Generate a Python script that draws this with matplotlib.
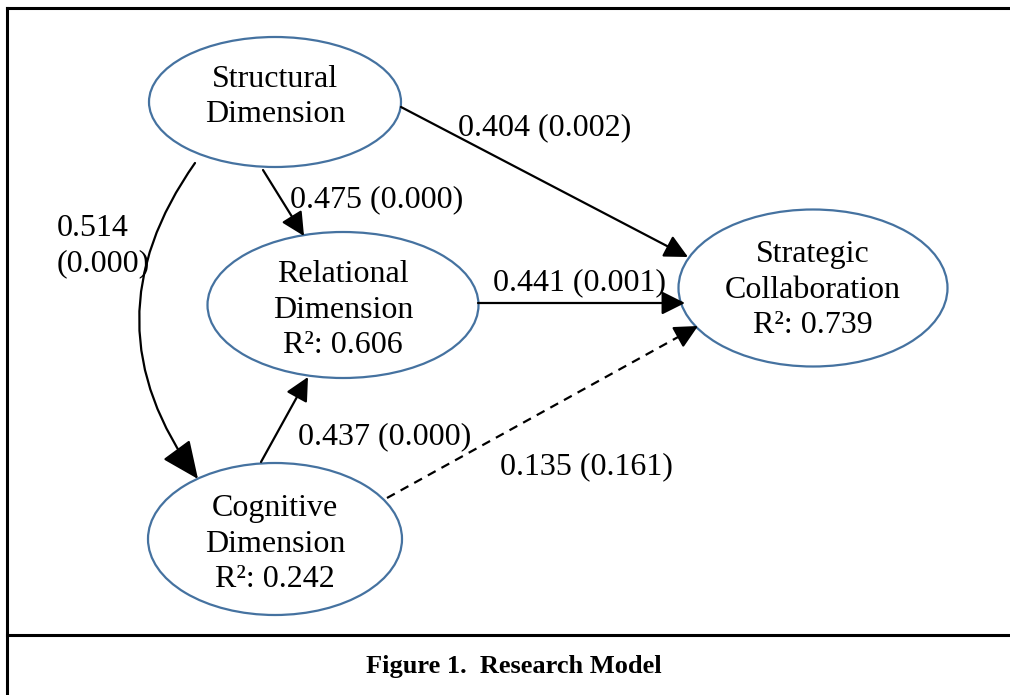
import matplotlib.pyplot as plt
import numpy as np
from matplotlib.patches import Ellipse, FancyArrowPatch

plt.rcParams["font.family"] = ["Liberation Serif", "DejaVu Serif"]

# Constructs and their R^2 values (None = exogenous)
constructs = ["Structural\nDimension", "Relational\nDimension",
              "Cognitive\nDimension", "Strategic\nCollaboration"]
r_squared = [None, 0.606, 0.242, 0.739]

# Paths: (source index, target index), coefficient, p-value
paths = [(0, 3), (0, 1), (0, 2), (1, 3), (2, 1), (2, 3)]
coefs = [0.404, 0.475, 0.514, 0.441, 0.437, 0.135]
pvals = [0.002, 0.000, 0.000, 0.001, 0.000, 0.161]

caption = "Figure 1.  Research Model"

# layout in pixel coordinates
centers = [(275, 102), (343, 305), (275, 539), (813, 288)]
sizes = [(252, 130), (271, 146), (254, 152), (269, 157)]
text_y = [97, 310, 544, 290]
arrow_ends = [((401, 107), (688, 257)),
              ((263, 170), (304, 236)),
              ((195, 163), (198, 479)),
              ((478, 303), (685, 303)),
              ((261, 462), (308, 377)),
              ((387, 498), (698, 326))]
label_pos = [(458, 128), (290, 200), (57, 246), (493, 283), (298, 437), (500, 467)]

fig = plt.figure(figsize=(10.1, 6.95), dpi=100)
ax = fig.add_axes([0, 0, 1, 1])
ax.set_xlim(0, 1010)
ax.set_ylim(695, 0)
ax.axis("off")

edge = "#4572a0"
fs = 23

for i, name in enumerate(constructs):
    cx, cy = centers[i]
    w, h = sizes[i]
    ax.add_patch(Ellipse((cx, cy), w, h, fill=False, ec=edge, lw=1.6))
    txt = name
    if r_squared[i] is not None:
        txt += "\nR\u00b2: %.3f" % r_squared[i]
    ax.text(cx, text_y[i], txt, ha="center", va="center", fontsize=fs,
            linespacing=1.3)

for k, (s, t) in enumerate(paths):
    p0, p1 = arrow_ends[k]
    style = "-|>,head_length=11,head_width=5.5"
    conn = "arc3,rad=0"
    if (s, t) == (0, 2):
        style = "-|>,head_length=18,head_width=8"
        conn = "arc3,rad=0.36"
    if pvals[k] > 0.05:
        # dashed shaft, solid head
        p0a, p1a = np.array(p0, float), np.array(p1, float)
        d = (p1a - p0a) / np.hypot(*(p1a - p0a))
        mid = p1a - d * 16
        ax.plot([p0a[0], mid[0]], [p0a[1], mid[1]], color="black", lw=1.6,
                linestyle=(0, (4, 3)))
        ax.add_patch(FancyArrowPatch(tuple(mid), p1, arrowstyle=style,
                                     color="black", lw=1.6, shrinkA=0,
                                     shrinkB=0, mutation_scale=1.3))
    else:
        ax.add_patch(FancyArrowPatch(p0, p1, arrowstyle=style,
                                     connectionstyle=conn, color="black",
                                     lw=1.6, shrinkA=0, shrinkB=0,
                                     mutation_scale=1.3))
    lx, ly = label_pos[k]
    if (s, t) == (0, 2):
        lab = "%.3f\n(%.3f)" % (coefs[k], pvals[k])
    else:
        lab = "%.3f (%.3f)" % (coefs[k], pvals[k])
    ax.text(lx, ly, lab, ha="left", va="center", fontsize=fs, linespacing=1.3)

# frame
ax.plot([7, 1010], [8, 8], color="black", lw=2.2)
ax.plot([7, 7], [8, 695], color="black", lw=2.2)
ax.plot([7, 1010], [635, 635], color="black", lw=2.2)

ax.text(514, 667, caption, ha="center", va="center", fontsize=19,
        fontweight="bold")

fig.savefig("out.png", dpi=100)
